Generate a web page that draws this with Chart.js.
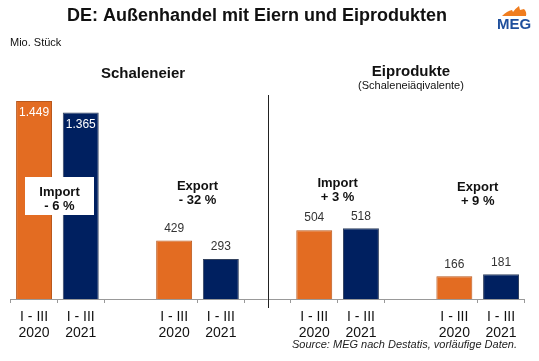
<!DOCTYPE html>
<html>
<head>
<meta charset="utf-8">
<script src="https://cdn.jsdelivr.net/npm/chart.js@4.4.1/dist/chart.umd.min.js"></script>
<style>
  html, body { margin: 0; padding: 0; background: #fff; }
  #wrap { width: 539px; height: 361px; position: relative; }
</style>
</head>
<body>
<div id="wrap"><canvas id="chart" width="539" height="361"></canvas></div>
<script>
const categories = [
  ['I - III', '2020'], ['I - III', '2021'], '',
  ['I - III', '2020'], ['I - III', '2021'], '',
  ['I - III', '2020'], ['I - III', '2021'], '',
  ['I - III', '2020'], ['I - III', '2021'],
];
const values = [1449, 1365, null, 429, 293, null, 504, 518, null, 166, 181];
const valueLabels = ['1.449', '1.365', '', '429', '293', '', '504', '518', '', '166', '181'];
const sections = ['Schaleneier', 'Eiprodukte'];
const changes = [['Import', '- 6 %'], ['Export', '- 32 %'], ['Import', '+ 3 %'], ['Export', '+ 9 %']];

const ORANGE = '#e36c22';
const NAVY = '#002060';
const FONT = '"Liberation Sans", Arial, sans-serif';

const barColors = values.map((v, i) => (i % 3 === 0 ? ORANGE : NAVY));
const borderColors = values.map((v, i) => (i % 3 === 0 ? '#b9581c' : '#33425e'));

const decor = {
  id: 'decor',
  afterDatasetsDraw(chart) {
    const ctx = chart.ctx;
    const x = chart.scales.x;
    const meta = chart.getDatasetMeta(0);
    ctx.save();

    // value labels
    ctx.font = '12px ' + FONT;
    ctx.textAlign = 'center';
    ctx.textBaseline = 'middle';
    meta.data.forEach((bar, i) => {
      if (values[i] == null) return;
      if (values[i] > 1000) {
        ctx.fillStyle = '#fff';
        ctx.fillText(valueLabels[i], bar.x, bar.y + 12);
      } else {
        ctx.fillStyle = '#333';
        ctx.fillText(valueLabels[i], bar.x, bar.y - 12);
      }
    });

    // divider between the two sections
    const mid = x.getPixelForValue(5);
    ctx.strokeStyle = '#222';
    ctx.lineWidth = 1;
    ctx.beginPath();
    ctx.moveTo(Math.round(mid) + 0.5, 95);
    ctx.lineTo(Math.round(mid) + 0.5, 308);
    ctx.stroke();

    // section headers
    ctx.fillStyle = '#111';
    ctx.font = 'bold 15px ' + FONT;
    ctx.fillText(sections[0], 143, 74);
    ctx.fillText(sections[1], 411, 72);
    ctx.font = '11px ' + FONT;
    ctx.fillText('(Schaleneiäqivalente)', 411, 86);

    // change annotations
    const groupX = [1, 3.5, 6.5, 9.5];
    const groupY = [192, 186, 183, 187];
    changes.forEach((c, k) => {
      const cx = x.getPixelForValue(0) + (x.getPixelForValue(1) - x.getPixelForValue(0)) * groupX[k];
      const cy = groupY[k];
      if (k === 0) {
        ctx.fillStyle = '#fff';
        ctx.fillRect(25, 177, 69, 38);
      }
      ctx.fillStyle = '#111';
      ctx.font = 'bold 13px ' + FONT;
      const px = k === 0 ? 59.5 : cx;
      ctx.fillText(c[0], px, cy);
      ctx.fillText(c[1], px, cy + 14);
    });
    ctx.restore();
  },
  afterDraw(chart) {
    const ctx = chart.ctx;
    ctx.save();
    ctx.fillStyle = '#111';
    ctx.textBaseline = 'middle';
    ctx.textAlign = 'center';
    ctx.font = 'bold 18px ' + FONT;
    ctx.fillText('DE: Außenhandel mit Eiern und Eiprodukten', 257, 16);
    ctx.textAlign = 'left';
    ctx.font = '11px ' + FONT;
    ctx.fillText('Mio. Stück', 10, 43);
    ctx.textAlign = 'right';
    ctx.font = 'italic 11px ' + FONT;
    ctx.fillStyle = '#222';
    ctx.fillText('Source: MEG nach Destatis, vorläufige Daten.', 517, 345);

    // MEG logo
    ctx.fillStyle = '#f07d1f';
    ctx.beginPath();
    ctx.moveTo(502, 16);
    ctx.quadraticCurveTo(507, 11, 512, 10);
    ctx.lineTo(513, 12);
    ctx.quadraticCurveTo(516, 8, 519, 6);
    ctx.lineTo(520, 10);
    ctx.lineTo(524, 9);
    ctx.quadraticCurveTo(527, 12, 526, 16);
    ctx.closePath();
    ctx.fill();
    ctx.fillStyle = '#1f4f9c';
    ctx.textAlign = 'center';
    ctx.font = 'bold 15px ' + FONT;
    ctx.fillText('MEG', 514, 25);
    ctx.restore();
  }
};

new Chart(document.getElementById('chart'), {
  type: 'bar',
  data: {
    labels: categories,
    datasets: [{
      data: values,
      backgroundColor: barColors,
      borderColor: borderColors,
      borderWidth: 1,
      borderSkipped: 'bottom',
      barPercentage: 0.77,
      categoryPercentage: 1,
    }]
  },
  options: {
    responsive: false,
    animation: false,
    layout: { padding: { left: 10.7, right: 14.6, top: 80.4, bottom: 0 } },
    plugins: { legend: { display: false }, tooltip: { enabled: false } },
    scales: {
      x: {
        offset: true,
        grid: {
          offset: true,
          drawOnChartArea: false,
          drawTicks: true,
          tickLength: 4,
          color: ctx => (ctx.index === 3 || ctx.index === 9 ? 'rgba(0,0,0,0)' : '#999'),
        },
        border: { display: true, color: '#999' },
        ticks: {
          color: '#111',
          padding: 6,
          autoSkip: false,
          maxRotation: 0,
          font: { family: FONT, size: 14, lineHeight: 1.15 },
        },
        afterFit(scale) { scale.height = 62; },
      },
      y: { display: false, min: 0, max: 1600 }
    }
  },
  plugins: [decor]
});
</script>
</body>
</html>
